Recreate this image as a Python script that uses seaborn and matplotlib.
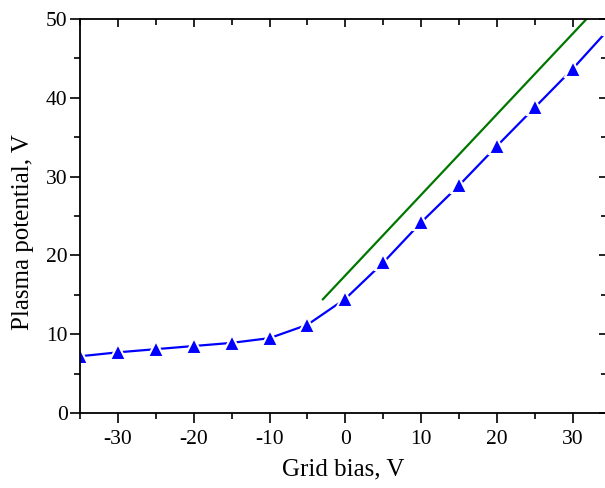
import matplotlib
matplotlib.use("Agg")
import matplotlib.pyplot as plt
import seaborn as sns
import pandas as pd
from matplotlib.ticker import MultipleLocator

grid_bias = [-35, -30, -25, -20, -15, -10, -5, 0, 5, 10, 15, 20, 25, 30, 35]
plasma_potential = [7.2, 7.7, 8.1, 8.5, 8.9, 9.5, 11.2, 14.5, 19.1, 24.2, 28.9, 33.9, 38.8, 43.7, 49.0]
fit_x = [-3.0, 31.8]
fit_y = [14.4, 50.0]

sns.set_theme(style="white")
plt.rcParams['font.family'] = ['Liberation Serif', 'DejaVu Serif']
plt.rcParams['axes.unicode_minus'] = False

fig = plt.figure(figsize=(6.05, 4.88), dpi=100)
rect = [80/605, 75/488, 527/605, 394/488]
ax = fig.add_axes(rect)

df = pd.DataFrame({"x": grid_bias, "y": plasma_potential})
fit = pd.DataFrame({"x": fit_x, "y": fit_y})

sns.lineplot(data=fit, x="x", y="y", ax=ax, color="#007700", linewidth=1.6, sort=False)
sns.lineplot(data=df, x="x", y="y", ax=ax, color="#0000ff", linewidth=1.6,
             marker="^", markersize=12, markeredgecolor="white", markeredgewidth=1.5,
             markerfacecolor="#0000ff", sort=False)

ax.set_xlim(-35, 34.5)
ax.set_ylim(0, 50)
for a in (ax.xaxis, ax.yaxis):
    a.set_major_locator(MultipleLocator(10))
    a.set_minor_locator(MultipleLocator(5))

for s in ax.spines.values():
    s.set_color("black")
    s.set_linewidth(1.3)

ax.tick_params(which="both", bottom=True, left=True, top=False, right=False,
               direction="out", color="black", width=1.2, labelsize=15.5, labelcolor="black")
ax.tick_params(which="major", length=7)
ax.tick_params(which="minor", length=4)
ax.tick_params(axis="y", which="major", pad=2)
ax.tick_params(axis="x", which="major", pad=5)

# overlay axes for inward ticks on top and right
ov = fig.add_axes(rect, sharex=ax, sharey=ax)
ov.patch.set_visible(False)
for s in ov.spines.values():
    s.set_visible(False)
ov.tick_params(which="both", direction="in", top=True, right=True, bottom=False, left=False,
               labeltop=False, labelright=False, labelbottom=False, labelleft=False,
               color="black", width=1.2)
ov.tick_params(which="major", length=6)
ov.tick_params(which="minor", length=4)
ov.set_xlabel("")
ov.set_ylabel("")

ax.set_xlabel("Grid bias, V", fontsize=18, color="black", labelpad=7)
ax.set_ylabel("Plasma potential, V", fontsize=18, color="black")
ax.yaxis.set_label_coords(-0.087, 0.46)

fig.savefig("out.png", dpi=100)
